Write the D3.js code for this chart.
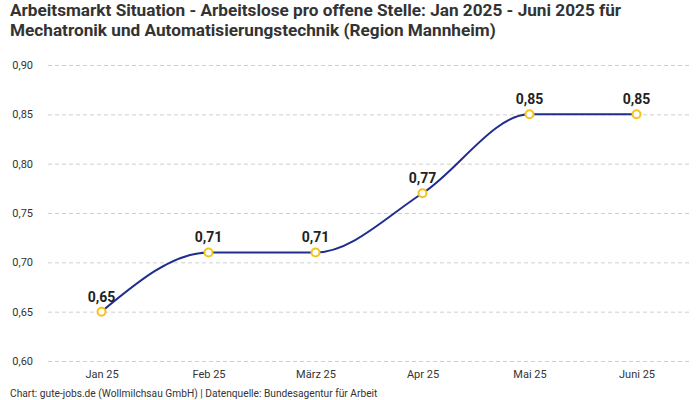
<!DOCTYPE html>
<html>
<head>
<meta charset="utf-8">
<script src="https://cdn.jsdelivr.net/npm/d3@7"></script>
<style>
  body { margin: 0; background: #fff; }
  text { font-family: "Liberation Sans Narrow", "Roboto", "DejaVu Sans Condensed", sans-serif; }
</style>
</head>
<body>
<script>
var months = ["Jan 25", "Feb 25", "März 25", "Apr 25", "Mai 25", "Juni 25"];
var values = [0.65, 0.71, 0.71, 0.77, 0.85, 0.85];
var yTicks = [0.60, 0.65, 0.70, 0.75, 0.80, 0.85, 0.90];

var width = 700,
    height = 400;

var fmt = function(v) { return d3.format(".2f")(v).replace(".", ","); };

var svg = d3.select("body").append("svg")
    .attr("width", width)
    .attr("height", height);

// title
svg.append("text")
    .attr("x", 10).attr("y", 16)
    .attr("font-size", 17.2).attr("font-weight", "bold").attr("fill", "#333")
    .text("Arbeitsmarkt Situation - Arbeitslose pro offene Stelle: Jan 2025 - Juni 2025 für");
svg.append("text")
    .attr("x", 10).attr("y", 36)
    .attr("font-size", 17.2).attr("font-weight", "bold").attr("fill", "#333")
    .text("Mechatronik und Automatisierungstechnik (Region Mannheim)");

var x = d3.scalePoint()
    .domain(months)
    .range([48, 690])
    .padding(0.5);

var y = d3.scaleLinear()
    .domain([0.60, 0.90])
    .range([361, 65]);

// grid + y labels
var yAxis = svg.append("g")
    .attr("transform", "translate(48,0)")
    .call(d3.axisLeft(y).tickValues(yTicks).tickFormat(fmt).tickSize(-642).tickPadding(15));
yAxis.select(".domain").remove();
yAxis.selectAll(".tick line")
    .attr("stroke", "#cfcfcf")
    .attr("stroke-dasharray", "4,3");
yAxis.selectAll(".tick text")
    .attr("font-size", 11).attr("fill", "#333");

// x labels
var xAxis = svg.append("g")
    .attr("transform", "translate(0,366)")
    .call(d3.axisBottom(x).tickSize(0).tickPadding(4));
xAxis.select(".domain").remove();
xAxis.selectAll(".tick text")
    .attr("font-size", 11).attr("fill", "#333");

// line
var line = d3.line()
    .x(function(d, i) { return x(months[i]); })
    .y(function(d) { return y(d); })
    .curve(d3.curveMonotoneX);

svg.append("path")
    .datum(values)
    .attr("d", line)
    .attr("fill", "none")
    .attr("stroke", "#1f2e8c")
    .attr("stroke-width", 2);

svg.append("g").selectAll("circle")
    .data(values)
  .enter().append("circle")
    .attr("cx", function(d, i) { return x(months[i]); })
    .attr("cy", function(d) { return y(d); })
    .attr("r", 4)
    .attr("fill", "#fff")
    .attr("stroke", "#f6c21c")
    .attr("stroke-width", 2);

svg.append("g").selectAll("text")
    .data(values)
  .enter().append("text")
    .attr("x", function(d, i) { return x(months[i]); })
    .attr("y", function(d) { return y(d) - 10; })
    .attr("text-anchor", "middle")
    .attr("font-size", 14).attr("font-weight", "bold").attr("fill", "#222")
    .text(fmt);

// footer
svg.append("text")
    .attr("x", 10).attr("y", 397)
    .attr("font-size", 10.2).attr("fill", "#333")
    .text("Chart: gute-jobs.de (Wollmilchsau GmbH) | Datenquelle: Bundesagentur für Arbeit");
</script>
</body>
</html>
